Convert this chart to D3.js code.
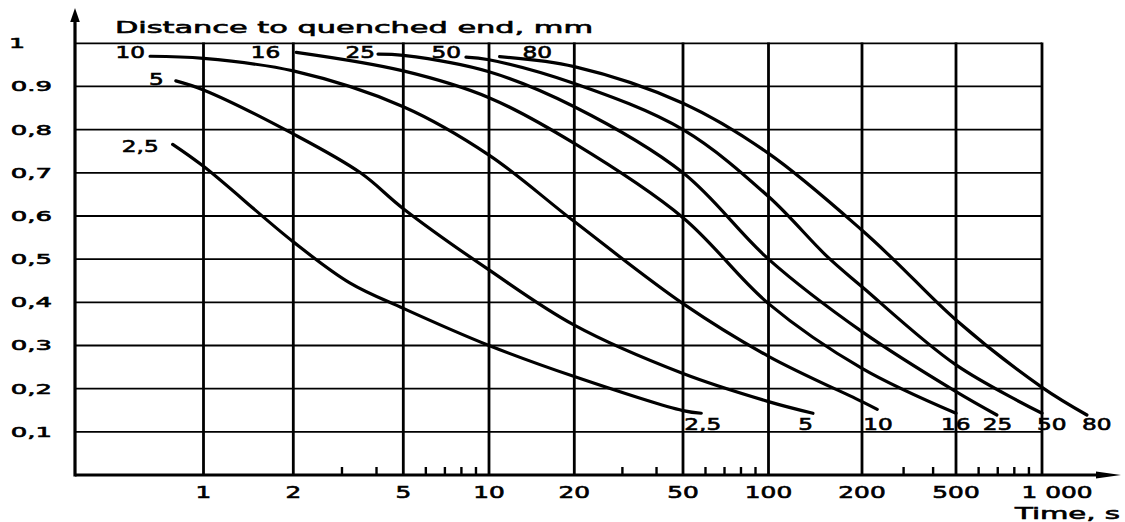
<!DOCTYPE html>
<html><head><meta charset="utf-8">
<script src="https://cdn.jsdelivr.net/npm/d3@7"></script>
<style>body{margin:0;background:#fff}svg{display:block}</style>
</head><body><svg id="c" width="1125" height="522"></svg>
<script>
// ---------- data ----------
const majorTicks = [1, 2, 5, 10, 20, 50, 100, 200, 500, 1000];
const majorTickLabels = ["1", "2", "5", "10", "20", "50", "100", "200", "500", "1 000"];
const minorTicks = [3, 4, 6, 7, 8, 9, 30, 40, 60, 70, 80, 90, 300, 400, 600, 700, 800, 900];
const yTicks = [0.1, 0.2, 0.3, 0.4, 0.5, 0.6, 0.7, 0.8, 0.9, 1];
const yTickLabels = ["0,1", "0,2", "0,3", "0,4", "0,5", "0,6", "0,7", "0,8", "0.9", "1"];
const seriesNames = ["2,5", "5", "10", "16", "25", "50", "80"];

const t2_5 = [0.78, 1, 2, 3.2, 5, 10, 20, 50, 58];
const v2_5 = [0.766, 0.715, 0.54, 0.445, 0.386, 0.30, 0.228, 0.149, 0.143];
const t5 = [0.8, 1, 2, 3.5, 5, 10, 20, 50, 100, 139];
const v5 = [0.913, 0.892, 0.79, 0.70, 0.617, 0.475, 0.347, 0.235, 0.17, 0.143];
const t10 = [0.65, 1, 2, 5, 10, 20, 50, 100, 200, 232];
const v10 = [0.97, 0.965, 0.936, 0.853, 0.741, 0.587, 0.397, 0.275, 0.17, 0.152];
const t16 = [2.05, 5, 10, 20, 50, 100, 200, 500];
const v16 = [0.979, 0.936, 0.874, 0.768, 0.596, 0.397, 0.247, 0.143];
const t25 = [4.05, 5, 10, 20, 50, 100, 200, 500, 695];
const v25 = [0.975, 0.972, 0.934, 0.853, 0.70, 0.5, 0.332, 0.193, 0.139];
const t50 = [8.3, 10, 20, 50, 100, 154, 200, 500, 1000];
const v50 = [0.968, 0.962, 0.907, 0.8, 0.645, 0.507, 0.436, 0.255, 0.143];
const t80 = [10.9, 20, 50, 100, 200, 277, 500, 1000, 1436];
const v80 = [0.969, 0.946, 0.861, 0.745, 0.567, 0.495, 0.359, 0.203, 0.139];

const seriesT = [t2_5, t5, t10, t16, t25, t50, t80];
const seriesV = [v2_5, v5, v10, v16, v25, v50, v80];

// ---------- layout (positions / styles) ----------
const svg = d3.select("#c");
const FONT = "DejaVu Sans";
const x = d3.scaleLog()
  .domain([0.355, 1, 2, 5, 10, 20, 50, 100, 200, 500, 1000])
  .range([75, 203.5, 293.3, 403.3, 489, 574.3, 683, 768.5, 862, 956, 1042]);
const y = d3.scaleLinear().domain([0, 1]).range([475, 43.3]);
const xMin = 0.355, xMax = 1000;

const topLab = [
  {dx: -14, dy: 8, a: "end"}, {dx: -12, dy: 4.5, a: "end"}, {dx: -5, dy: 2, a: "end"},
  {dx: -16, dy: 6, a: "end"}, {dx: -3, dy: 4, a: "end"}, {dx: -5, dy: 1, a: "end"},
  {dx: 23, dy: 1, a: "start"}
];
const botLab = [
  {dx: -17, a: "start"}, {dx: 0, a: "end"}, {dx: -14, a: "start"}, {dx: -15, a: "start"},
  {dx: -14, a: "start"}, {dx: -5, a: "start"}, {dx: -5, a: "start"}
];

function txt(str, px, py, anchor, size, sx) {
  return svg.append("text")
    .attr("transform", `translate(${px},${py}) scale(${sx},1)`)
    .attr("text-anchor", anchor)
    .attr("font-family", FONT).attr("font-size", size)
    .attr("fill", "#000").attr("stroke", "#000").attr("stroke-width", 0.6)
    .text(str);
}

// horizontal grid
svg.append("g").selectAll("line").data(yTicks).join("line")
  .attr("x1", x(xMin)).attr("x2", x(xMax))
  .attr("y1", d => y(d)).attr("y2", d => y(d))
  .attr("stroke", "#000").attr("stroke-width", 1.8);

// vertical grid
svg.append("g").selectAll("line").data(majorTicks).join("line")
  .attr("x1", d => x(d)).attr("x2", d => x(d))
  .attr("y1", y(0)).attr("y2", y(1) - 0.9)
  .attr("stroke", "#000").attr("stroke-width", 2.8);

// minor ticks
svg.append("g").selectAll("line").data(minorTicks).join("line")
  .attr("x1", d => x(d)).attr("x2", d => x(d))
  .attr("y1", y(0)).attr("y2", y(0) - 8)
  .attr("stroke", "#000").attr("stroke-width", 2.4);

// axes
svg.append("line").attr("x1", x(xMin)).attr("x2", 1100).attr("y1", y(0)).attr("y2", y(0))
  .attr("stroke", "#000").attr("stroke-width", 3);
svg.append("path").attr("d", `M1121,${y(0)} L1096,${y(0) - 3.5} L1096,${y(0) + 3.5} Z`).attr("fill", "#000");
svg.append("line").attr("x1", x(xMin)).attr("x2", x(xMin)).attr("y1", y(0) + 1.5).attr("y2", 18)
  .attr("stroke", "#000").attr("stroke-width", 3.2);
svg.append("path").attr("d", `M${x(xMin)},8 L${x(xMin) - 4.8},22 L${x(xMin) + 4.8},22 Z`).attr("fill", "#000");

// curves
const line = d3.line().x(d => x(d[0])).y(d => y(d[1])).curve(d3.curveCatmullRom.alpha(0.5));
seriesT.forEach((ts, i) => {
  const pts = ts.map((t, j) => [t, seriesV[i][j]]);
  svg.append("path").datum(pts).attr("d", line)
    .attr("fill", "none").attr("stroke", "#000").attr("stroke-width", 3.2)
    .attr("stroke-linecap", "round").attr("stroke-linejoin", "round");
  const p0 = pts[0], p1 = pts[pts.length - 1];
  const tl = topLab[i], bl = botLab[i];
  txt(seriesNames[i], x(p0[0]) + tl.dx, y(p0[1]) + tl.dy, tl.a, 16, 1.45);
  txt(seriesNames[i], x(p1[0]) + bl.dx, y(0.1) - 2, bl.a, 16, 1.45);
});

// x tick labels
majorTicks.forEach((d, i) => {
  const lab = majorTickLabels[i];
  txt(lab, x(d) + (lab === "1 000" ? 15 : 0), 498, "middle", 16, 1.55);
});
// y tick labels
yTicks.forEach((d, i) => {
  const lab = yTickLabels[i];
  if (lab === "1") txt(lab, 9, y(d) + 5, "start", 14, 1.8);
  else txt(lab, 52, y(d) + 5, "end", 14, 1.85);
});

// axis titles
svg.append("text").attr("x", 115).attr("y", 33)
  .attr("textLength", 478).attr("lengthAdjust", "spacingAndGlyphs")
  .attr("font-family", FONT).attr("font-size", 16)
  .attr("fill", "#000").attr("stroke", "#000").attr("stroke-width", 0.6)
  .text("Distance to quenched end, mm");
svg.append("text").attr("x", 1015).attr("y", 519)
  .attr("textLength", 105).attr("lengthAdjust", "spacingAndGlyphs")
  .attr("font-family", FONT).attr("font-size", 16)
  .attr("fill", "#000").attr("stroke", "#000").attr("stroke-width", 0.6)
  .text("Time,  s");
</script></body></html>
